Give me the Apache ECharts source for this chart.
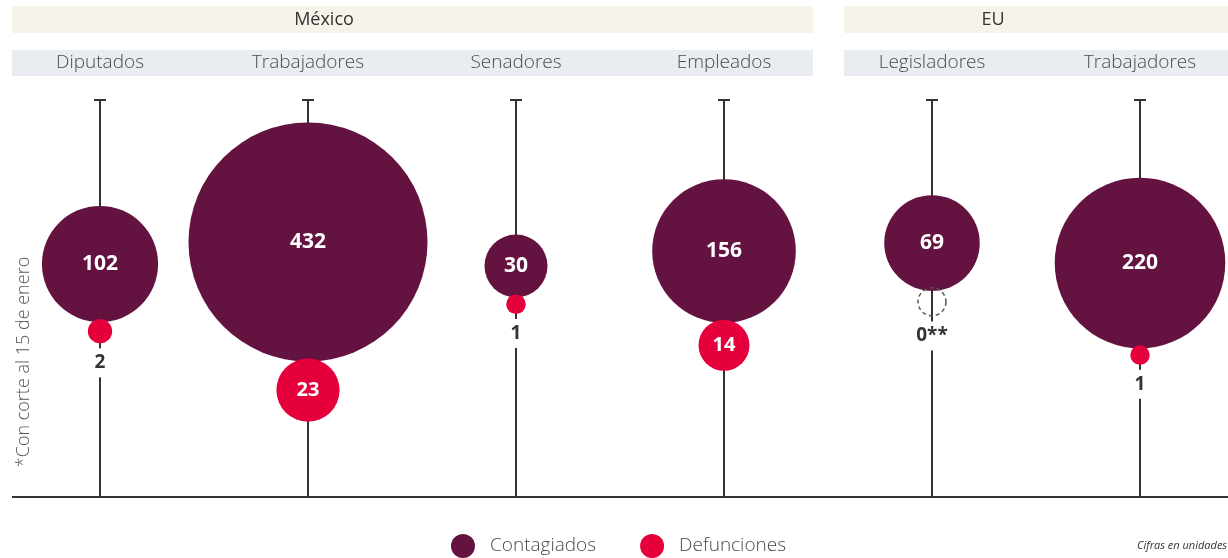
<!DOCTYPE html>
<html>
<head>
<meta charset="utf-8">
<script src="https://cdn.jsdelivr.net/npm/echarts@6/dist/echarts.min.js"></script>
<style>
html, body { margin: 0; padding: 0; background: #fff; }
#chart { width: 1228px; height: 558px; }
</style>
</head>
<body>
<div id="chart"></div>
<script>
// datos (cifras en unidades, con corte al 15 de enero)
var grupos = ['México', 'EU'];
var categorias = ['Diputados', 'Trabajadores', 'Senadores', 'Empleados', 'Legisladores', 'Trabajadores'];
var contagiados = [102, 432, 30, 156, 69, 220];
var defunciones = [2, 23, 1, 14, 0, 1];
var notas = ['', '', '', '', '**', ''];

// colores y tipografia
var MORADO = '#641341';
var ROJO = '#e5003c';
var LINEA = '#333333';
var FUENTE = '"Open Sans", "Noto Sans", sans-serif';

// altura (px bajo el tope de la guia) donde se coloca cada circulo grande
var centroY = [164, 142, 166, 151, 143, 163];
var LARGO = 397;

function diamC(v) { return 11.5 * Math.sqrt(v); }
function diamD(v) { return v > 0 ? 11.5 * Math.sqrt(v) + 8 : 28; }

var myChart = echarts.init(document.getElementById('chart'));

var guias = categorias.map(function (c, i) { return [i]; });

var datosC = contagiados.map(function (v, i) {
    return { value: [i, centroY[i], v] };
});

var datosD = defunciones.map(function (v, i) {
    var y = centroY[i] + diamC(contagiados[i]) / 2 + diamD(v) / 2 - 3;
    var item = { value: [i, y, v] };
    if (v >= 10) {
        item.label = { position: 'inside', color: '#fff', backgroundColor: 'transparent', padding: 0, fontSize: 20 };
    }
    if (v === 0) {
        item.itemStyle = { color: 'rgba(0,0,0,0)', borderColor: '#555', borderWidth: 1.5, borderType: [4, 3] };
    }
    return item;
});

var option = {
    animation: false,
    backgroundColor: '#fff',
    grid: { left: 0, right: 0, top: 100, bottom: 61 },
    xAxis: {
        type: 'value',
        min: -0.4808,
        max: 5.4231,
        show: false
    },
    yAxis: {
        type: 'value',
        inverse: true,
        min: 0,
        max: LARGO,
        show: false
    },
    legend: {
        left: 446,
        top: 529,
        itemWidth: 44,
        itemHeight: 24,
        itemGap: 44,
        icon: 'circle',
        textStyle: { fontFamily: FUENTE, fontWeight: 300, fontSize: 19, color: '#4a4a4a' },
        data: ['Contagiados', 'Defunciones']
    },
    graphic: [
        { type: 'rect', shape: { x: 12, y: 6, width: 801, height: 27 }, style: { fill: '#f6f3ea' }, z: -10 },
        { type: 'rect', shape: { x: 844, y: 6, width: 384, height: 27 }, style: { fill: '#f6f3ea' }, z: -10 },
        { type: 'rect', shape: { x: 12, y: 50, width: 801, height: 26 }, style: { fill: '#e9edf1' }, z: -10 },
        { type: 'rect', shape: { x: 844, y: 50, width: 384, height: 26 }, style: { fill: '#e9edf1' }, z: -10 },
        { type: 'text', x: 324, y: 20, style: { text: grupos[0], fontFamily: FUENTE, fontSize: 18, fill: '#333', align: 'center', verticalAlign: 'middle' } },
        { type: 'text', x: 993, y: 20, style: { text: grupos[1], fontFamily: FUENTE, fontSize: 18, fill: '#333', align: 'center', verticalAlign: 'middle' } },
        { type: 'line', shape: { x1: 12, y1: 497, x2: 1228, y2: 497 }, style: { stroke: LINEA, lineWidth: 2 } },
        { type: 'text', x: 24, y: 362, rotation: Math.PI / 2, style: { text: '*Con corte al 15 de enero', fontFamily: FUENTE, fontWeight: 300, fontSize: 18, fill: '#555', align: 'center', verticalAlign: 'middle' } },
        { type: 'text', x: 1137, y: 546, style: { text: 'Cifras en unidades', fontFamily: FUENTE, fontStyle: 'italic', fontSize: 11, fill: '#333', verticalAlign: 'middle' } }
    ],
    series: [
        {
            name: 'guias',
            type: 'custom',
            z: 1,
            silent: true,
            clip: false,
            data: guias,
            renderItem: function (params, api) {
                var i = api.value(0);
                var arriba = api.coord([i, 0]);
                var abajo = api.coord([i, LARGO]);
                var st = { stroke: LINEA, lineWidth: 2 };
                return {
                    type: 'group',
                    children: [
                        { type: 'line', shape: { x1: arriba[0], y1: arriba[1], x2: abajo[0], y2: abajo[1] }, style: st },
                        { type: 'line', shape: { x1: arriba[0] - 6, y1: arriba[1], x2: arriba[0] + 6, y2: arriba[1] }, style: st },
                        {
                            type: 'text',
                            x: arriba[0],
                            y: arriba[1] - 37,
                            style: {
                                text: categorias[i],
                                fontFamily: FUENTE,
                                fontWeight: 300,
                                fontSize: 19,
                                fill: '#4a4a4a',
                                align: 'center',
                                verticalAlign: 'middle'
                            }
                        }
                    ]
                };
            }
        },
        {
            name: 'Contagiados',
            type: 'scatter',
            z: 3,
            data: datosC,
            symbolSize: function (d) { return diamC(d[2]); },
            itemStyle: { color: MORADO, opacity: 1 },
            label: {
                show: true,
                position: 'inside',
                formatter: function (p) { return p.value[2]; },
                fontFamily: FUENTE,
                fontWeight: 'bold',
                fontSize: 21,
                color: '#fff'
            }
        },
        {
            name: 'Defunciones',
            type: 'scatter',
            z: 4,
            data: datosD,
            symbolSize: function (d) { return diamD(d[2]); },
            itemStyle: { color: ROJO, opacity: 1 },
            label: {
                show: true,
                position: 'bottom',
                distance: 5,
                formatter: function (p) { return p.value[2] + notas[p.dataIndex]; },
                fontFamily: FUENTE,
                fontWeight: 'bold',
                fontSize: 19,
                color: '#333',
                backgroundColor: '#fff',
                padding: [5, 3]
            }
        }
    ]
};

myChart.setOption(option);
</script>
</body>
</html>
